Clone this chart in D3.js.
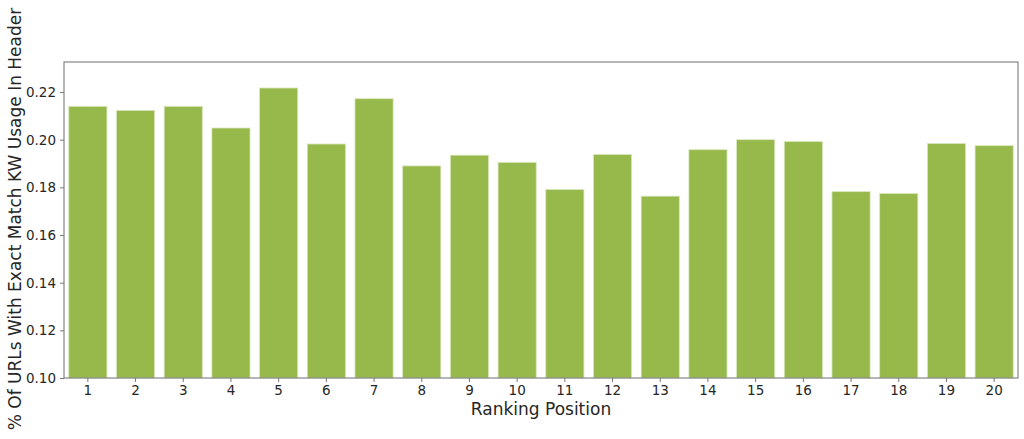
<!DOCTYPE html>
<html>
<head>
<meta charset="utf-8">
<script src="https://cdn.jsdelivr.net/npm/d3@7"></script>
<style>
  body { margin: 0; background: #fff; }
  text { font-family: "DejaVu Sans", sans-serif; }
</style>
</head>
<body>
<svg id="chart"></svg>
<script>
// ranking positions and share of URLs with exact-match keyword in header
const positions = ["1","2","3","4","5","6","7","8","9","10","11","12","13","14","15","16","17","18","19","20"];
const shares = [0.2140, 0.2123, 0.2140, 0.2049, 0.2217, 0.1982, 0.2172, 0.1890, 0.1935, 0.1905,
                0.1791, 0.1938, 0.1763, 0.1958, 0.2000, 0.1992, 0.1782, 0.1774, 0.1984, 0.1975];
const yTicks = [0.10, 0.12, 0.14, 0.16, 0.18, 0.20, 0.22];

const W = 1024, H = 439;
const margin = { top: 62, right: 6, bottom: 61, left: 64 };
const width = W - margin.left - margin.right;
const height = H - margin.top - margin.bottom;

const svg = d3.select("#chart").attr("width", W).attr("height", H);
const g = svg.append("g").attr("transform", `translate(${margin.left},${margin.top})`);

const x = d3.scaleBand().domain(positions).range([0, width]).paddingInner(0.2).paddingOuter(0.1);
const y = d3.scaleLinear().domain([0.10, 0.2326]).range([height, 0]);

g.selectAll("rect.bar")
  .data(positions)
  .join("rect")
  .attr("class", "bar")
  .attr("x", d => x(d))
  .attr("y", (d, i) => y(shares[i]))
  .attr("width", x.bandwidth())
  .attr("height", (d, i) => height - y(shares[i]))
  .attr("fill", "#97b94c")
  .attr("stroke", "#d9e7be")
  .attr("stroke-width", 0.8);

const xAxis = g.append("g")
  .attr("transform", `translate(0,${height})`)
  .call(d3.axisBottom(x).tickSize(4).tickPadding(3));
const yAxis = g.append("g")
  .call(d3.axisLeft(y).tickValues(yTicks).tickFormat(d3.format(".2f")).tickSize(4).tickPadding(4));

[xAxis, yAxis].forEach(a => {
  a.select(".domain").remove();
  a.selectAll(".tick line").attr("stroke", "#777");
  a.selectAll(".tick text").attr("fill", "#262626").style("font-size", "13.5px");
});

// frame
g.append("rect")
  .attr("width", width).attr("height", height)
  .attr("fill", "none").attr("stroke", "#7a7a7a").attr("stroke-width", 1.1);

svg.append("text")
  .attr("x", margin.left + width / 2)
  .attr("y", 415)
  .attr("text-anchor", "middle")
  .attr("fill", "#262626")
  .style("font-size", "17px")
  .text("Ranking Position");

svg.append("text")
  .attr("transform", `translate(21,${219}) rotate(-90)`)
  .attr("text-anchor", "middle")
  .attr("fill", "#262626")
  .style("font-size", "17px")
  .text("% Of URLs With Exact Match KW Usage In Header");
</script>
</body>
</html>
